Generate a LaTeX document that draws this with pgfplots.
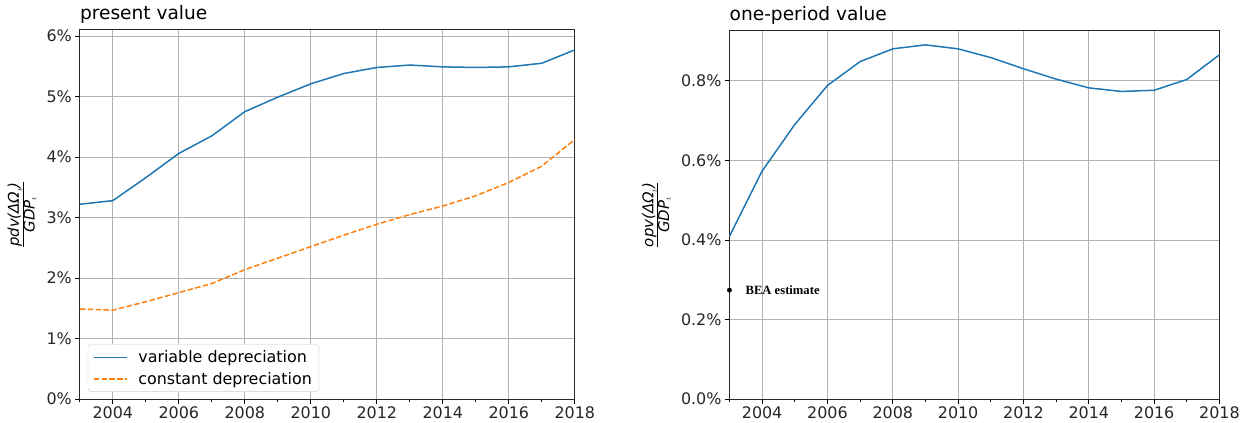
\documentclass[border=0pt]{standalone}
\usepackage{pgfplots}
\pgfplotsset{compat=1.18}
\usepackage{fontspec}
\setmainfont{DejaVu Sans}
\newfontfamily\serifb{Liberation Serif}
\definecolor{mblue}{HTML}{1F77B4}
\definecolor{morange}{HTML}{FF7F0E}
\pgfplotsset{
  myax/.style={
    scale only axis, anchor=south west,
    xmin=2003, xmax=2018,
    xtick={2004,2006,...,2018},
    minor xtick={2003,2005,...,2017},
    grid=major,
    major grid style={color=black!30, line width=0.8bp},
    tick align=outside, tick pos=left,
    major tick length=4.5bp, minor tick length=2.5bp,
    every tick/.style={black, line width=0.8bp},
    axis line style={line width=0.9bp, black!85},
    ticklabel style={font=\fontsize{16}{19}\selectfont, text=black!85},
    /pgf/number format/assume math mode=true,
    x tick label style={/pgf/number format/.cd, 1000 sep={}},
    title style={at={(0,1)}, anchor=base west, inner sep=0pt, yshift=4.5bp, font=\fontsize{18.7}{22}\selectfont},
    ylabel style={anchor=center, font=\fontsize{15}{18}\selectfont},
    clip=false,
  }
}
\begin{document}
\begin{tikzpicture}
\path (0bp,0bp) rectangle (1243bp,420bp);
\begin{axis}[myax, at={(80bp,20bp)}, width=496bp, height=370bp,
  ymin=0, ymax=6.1, ytick={0,1,...,6},
  yticklabel={\pgfmathprintnumber[fixed,precision=0]{\tick}\%},
  title={present value},
  ylabel={$\frac{\mbox{\itshape pdv(ΔΩ}_t\mbox{\itshape )}}{\mbox{\itshape GDP}_t}$},
  ylabel style={at={(axis description cs:-0.117,0.5)}, rotate=0},
  legend style={at={(axis description cs:0.016,0.02)}, anchor=south west,
    draw=black!20, rounded corners=3bp, fill=white,
    font=\fontsize{16}{19}\selectfont, row sep=4bp, inner xsep=5bp, inner ysep=4bp},
  legend cell align=left,
  legend image code/.code={\draw[#1, line width=1.5bp] (0bp,0bp) -- (33bp,0bp); \path (42bp,0bp);},
]
\addplot[mblue, line width=1.5bp] coordinates {
(2003,3.22) (2004,3.28) (2005,3.66) (2006,4.06) (2007,4.35) (2008,4.75)
(2009,4.99) (2010,5.21) (2011,5.38) (2012,5.48) (2013,5.52) (2014,5.49)
(2015,5.48) (2016,5.49) (2017,5.55) (2018,5.77)};
\addlegendentry{variable depreciation}
\addplot[morange, line width=1.5bp, dash pattern=on 5.5bp off 2.4bp] coordinates {
(2003,1.49) (2004,1.47) (2005,1.61) (2006,1.76) (2007,1.91) (2008,2.14)
(2009,2.33) (2010,2.52) (2011,2.71) (2012,2.89) (2013,3.05) (2014,3.19)
(2015,3.36) (2016,3.58) (2017,3.85) (2018,4.29)};
\addlegendentry{constant depreciation}
\end{axis}
\begin{axis}[myax, at={(731bp,20bp)}, width=491bp, height=369bp,
  ymin=0, ymax=0.925, ytick={0,0.2,0.4,0.6,0.8},
  yticklabel={\pgfmathprintnumber[fixed,fixed zerofill,precision=1]{\tick}\%},
  title={one-period value},
  ylabel={$\frac{\mbox{\itshape opv(ΔΩ}_t\mbox{\itshape )}}{\mbox{\itshape GDP}_t}$},
  ylabel style={at={(axis description cs:-0.149,0.5)}, rotate=0},
]
\addplot[mblue, line width=1.5bp] coordinates {
(2003,0.409) (2004,0.573) (2005,0.690) (2006,0.788) (2007,0.848) (2008,0.880)
(2009,0.890) (2010,0.880) (2011,0.858) (2012,0.830) (2013,0.804) (2014,0.782)
(2015,0.773) (2016,0.776) (2017,0.803) (2018,0.865)};
\addplot[black, only marks, mark=*, mark size=2.2bp] coordinates {(2003,0.274)};
\node[anchor=west, font=\serifb\bfseries\fontsize{12.7}{15}\selectfont, inner sep=0pt, xshift=16bp] at (axis cs:2003,0.274) {BEA estimate};
\end{axis}
\end{tikzpicture}
\end{document}
